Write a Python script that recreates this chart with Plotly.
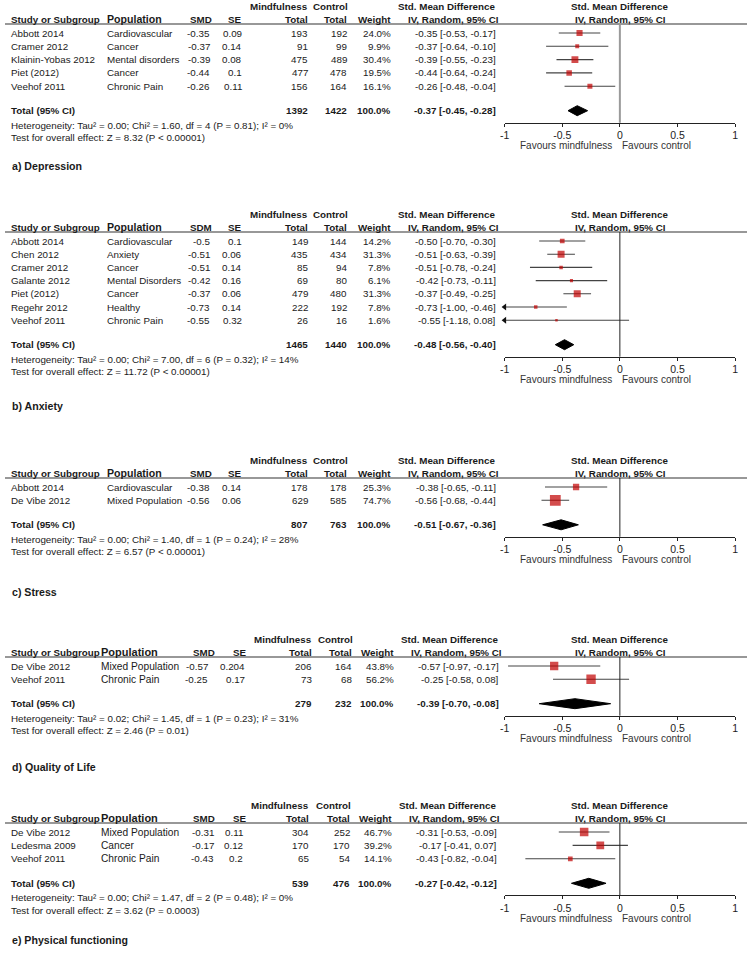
import math
import plotly.graph_objects as go

# ---------------- DATA ----------------
# a) Depression
a_title = "a) Depression"
a_smd_label = "SMD"
a_study = ["Abbott 2014", "Cramer 2012", "Klainin-Yobas 2012", "Piet (2012)", "Veehof 2011"]
a_pop = ["Cardiovascular", "Cancer", "Mental disorders", "Cancer", "Chronic Pain"]
a_smd = [-0.35, -0.37, -0.39, -0.44, -0.26]
a_se = [0.09, 0.14, 0.08, 0.1, 0.11]
a_n1 = [193, 91, 475, 477, 156]
a_n2 = [192, 99, 489, 478, 164]
a_w = [24.0, 9.9, 30.4, 19.5, 16.1]
a_est = [-0.35, -0.37, -0.39, -0.44, -0.26]
a_lo = [-0.53, -0.64, -0.55, -0.64, -0.48]
a_hi = [-0.17, -0.10, -0.23, -0.24, -0.04]
a_total_n = [1392, 1422]
a_total_w = 100.0
a_pooled = [-0.37, -0.45, -0.28]
a_het = "Heterogeneity: Tau² = 0.00; Chi² = 1.60, df = 4 (P = 0.81); I² = 0%"
a_test = "Test for overall effect: Z = 8.32 (P < 0.00001)"

# b) Anxiety
b_title = "b) Anxiety"
b_smd_label = "SDM"
b_study = ["Abbott 2014", "Chen 2012", "Cramer 2012", "Galante 2012", "Piet (2012)", "Regehr 2012", "Veehof 2011"]
b_pop = ["Cardiovascular", "Anxiety", "Cancer", "Mental Disorders", "Cancer", "Healthy", "Chronic Pain"]
b_smd = [-0.5, -0.51, -0.51, -0.42, -0.37, -0.73, -0.55]
b_se = [0.1, 0.06, 0.14, 0.16, 0.06, 0.14, 0.32]
b_n1 = [149, 435, 85, 69, 479, 222, 26]
b_n2 = [144, 434, 94, 80, 480, 192, 16]
b_w = [14.2, 31.3, 7.8, 6.1, 31.3, 7.8, 1.6]
b_est = [-0.50, -0.51, -0.51, -0.42, -0.37, -0.73, -0.55]
b_lo = [-0.70, -0.63, -0.78, -0.73, -0.49, -1.00, -1.18]
b_hi = [-0.30, -0.39, -0.24, -0.11, -0.25, -0.46, 0.08]
b_total_n = [1465, 1440]
b_total_w = 100.0
b_pooled = [-0.48, -0.56, -0.40]
b_het = "Heterogeneity: Tau² = 0.00; Chi² = 7.00, df = 6 (P = 0.32); I² = 14%"
b_test = "Test for overall effect: Z = 11.72 (P < 0.00001)"

# c) Stress
c_title = "c) Stress"
c_smd_label = "SMD"
c_study = ["Abbott 2014", "De Vibe 2012"]
c_pop = ["Cardiovascular", "Mixed Population"]
c_smd = [-0.38, -0.56]
c_se = [0.14, 0.06]
c_n1 = [178, 629]
c_n2 = [178, 585]
c_w = [25.3, 74.7]
c_est = [-0.38, -0.56]
c_lo = [-0.65, -0.68]
c_hi = [-0.11, -0.44]
c_total_n = [807, 763]
c_total_w = 100.0
c_pooled = [-0.51, -0.67, -0.36]
c_het = "Heterogeneity: Tau² = 0.00; Chi² = 1.40, df = 1 (P = 0.24); I² = 28%"
c_test = "Test for overall effect: Z = 6.57 (P < 0.00001)"

# d) Quality of Life
d_title = "d) Quality of Life"
d_smd_label = "SMD"
d_study = ["De Vibe 2012", "Veehof 2011"]
d_pop = ["Mixed Population", "Chronic Pain"]
d_smd = [-0.57, -0.25]
d_se = [0.204, 0.17]
d_n1 = [206, 73]
d_n2 = [164, 68]
d_w = [43.8, 56.2]
d_est = [-0.57, -0.25]
d_lo = [-0.97, -0.58]
d_hi = [-0.17, 0.08]
d_total_n = [279, 232]
d_total_w = 100.0
d_pooled = [-0.39, -0.70, -0.08]
d_het = "Heterogeneity: Tau² = 0.02; Chi² = 1.45, df = 1 (P = 0.23); I² = 31%"
d_test = "Test for overall effect: Z = 2.46 (P = 0.01)"

# e) Physical functioning
e_title = "e) Physical functioning"
e_smd_label = "SMD"
e_study = ["De Vibe 2012", "Ledesma 2009", "Veehof 2011"]
e_pop = ["Mixed Population", "Cancer", "Chronic Pain"]
e_smd = [-0.31, -0.17, -0.43]
e_se = [0.11, 0.12, 0.2]
e_n1 = [304, 170, 65]
e_n2 = [252, 170, 54]
e_w = [46.7, 39.2, 14.1]
e_est = [-0.31, -0.17, -0.43]
e_lo = [-0.53, -0.41, -0.82]
e_hi = [-0.09, 0.07, -0.04]
e_total_n = [539, 476]
e_total_w = 100.0
e_pooled = [-0.27, -0.42, -0.12]
e_het = "Heterogeneity: Tau² = 0.00; Chi² = 1.47, df = 2 (P = 0.48); I² = 0%"
e_test = "Test for overall effect: Z = 3.62 (P = 0.0003)"

axis_tickvals = [-1, -0.5, 0, 0.5, 1]
axis_ticktext = ["-1", "-0.5", "0", "0.5", "1"]
favours_left = "Favours mindfulness"
favours_right = "Favours control"

# ---------------- LAYOUT / STYLE ----------------
W, H = 750, 957
FONT = "Liberation Sans, Arial, sans-serif"
TXT = "#1a1a1a"
RED = "#c00000"
X0_PX, X1_PX = 505, 738
LEFT_FIX = -5  # compensation for left-anchored annotation offset

colABC = dict(study=11, pop=108, smd=207, smd_h=209, se=240, se_h=240, n1=306, n2=346,
              w=390, ci=496, ci_h=499, pop_size=9.8, poph_size=10.6)
colD = dict(study=11, pop=102, smd=205, smd_h=212, se=243, se_h=245, n1=310, n2=351,
            w=393, ci=499, ci_h=502, pop_size=10.2, poph_size=11)
colE = dict(study=11, pop=102, smd=211, smd_h=212, se=241, se_h=245, n1=307, n2=349,
            w=391, ci=497, ci_h=500, pop_size=10.2, poph_size=11)

panels = [
    dict(title=a_title, smdl=a_smd_label, study=a_study, pop=a_pop, smd=a_smd, se=a_se, n1=a_n1, n2=a_n2,
         w=a_w, est=a_est, lo=a_lo, hi=a_hi, tn=a_total_n, tw=a_total_w, pooled=a_pooled, het=a_het,
         test=a_test, line_y=24, step=13.3, label_y=166, col=colABC, zcol="#9a9a9a", zw=2),
    dict(title=b_title, smdl=b_smd_label, study=b_study, pop=b_pop, smd=b_smd, se=b_se, n1=b_n1, n2=b_n2,
         w=b_w, est=b_est, lo=b_lo, hi=b_hi, tn=b_total_n, tw=b_total_w, pooled=b_pooled, het=b_het,
         test=b_test, line_y=232, step=13.2, label_y=406, col=colABC, zcol="#222", zw=1),
    dict(title=c_title, smdl=c_smd_label, study=c_study, pop=c_pop, smd=c_smd, se=c_se, n1=c_n1, n2=c_n2,
         w=c_w, est=c_est, lo=c_lo, hi=c_hi, tn=c_total_n, tw=c_total_w, pooled=c_pooled, het=c_het,
         test=c_test, line_y=478, step=13.3, label_y=592, col=colABC, zcol="#222", zw=1),
    dict(title=d_title, smdl=d_smd_label, study=d_study, pop=d_pop, smd=d_smd, se=d_se, n1=d_n1, n2=d_n2,
         w=d_w, est=d_est, lo=d_lo, hi=d_hi, tn=d_total_n, tw=d_total_w, pooled=d_pooled, het=d_het,
         test=d_test, line_y=657, step=13.2, label_y=767, col=colD, zcol="#222", zw=1),
    dict(title=e_title, smdl=e_smd_label, study=e_study, pop=e_pop, smd=e_smd, se=e_se, n1=e_n1, n2=e_n2,
         w=e_w, est=e_est, lo=e_lo, hi=e_hi, tn=e_total_n, tw=e_total_w, pooled=e_pooled, het=e_het,
         test=e_test, line_y=823, step=13.4, label_y=940, col=colE, zcol="#222", zw=1),
]

fig = go.Figure()
annotations = []
shapes = []


def txt(x, y, s, align="left", size=9.8, bold=False, color=TXT):
    if bold:
        s = f"<b>{s}</b>"
    if align == "left":
        x = x + LEFT_FIX
    annotations.append(dict(x=x / W, y=y, xref="paper", yref="y", text=s, showarrow=False,
                            xanchor=align, yanchor="middle", align=align, borderpad=0, borderwidth=0,
                            font=dict(family=FONT, size=size, color=color)))


def fmt_ci(e, l, h):
    return f"{e:.2f} [{l:.2f}, {h:.2f}]"


layout_axes = {}
for i, p in enumerate(panels):
    c = p["col"]
    L = p["line_y"]
    rows = [L + 9 + k * p["step"] for k in range(len(p["study"]))]
    tot_y = rows[-1] + 24.5
    axis_y = tot_y + 12
    xa = "x" if i == 0 else f"x{i + 1}"
    axname = "xaxis" if i == 0 else f"xaxis{i + 1}"

    # header texts
    txt(c["n1"], L - 18, "Mindfulness", "right", bold=True)
    txt(c["n2"] + 1, L - 18, "Control", "right", bold=True)
    txt(c["ci_h"] - 4, L - 18, "Std. Mean Difference", "right", bold=True)
    txt(621, L - 18, "Std. Mean Difference", "center", bold=True)
    txt(c["study"], L - 5, "Study or Subgroup", "left", bold=True)
    txt(c["pop"], L - 5, "Population", "left", size=c["poph_size"], bold=True)
    txt(c["smd_h"], L - 5, p["smdl"], "right", bold=True)
    txt(c["se_h"], L - 5, "SE", "right", bold=True)
    txt(c["n1"], L - 5, "Total", "right", bold=True)
    txt(c["n2"], L - 5, "Total", "right", bold=True)
    txt(c["w"], L - 5, "Weight", "right", bold=True)
    txt(c["ci_h"], L - 5, "IV, Random, 95% CI", "right", bold=True)
    txt(622, L - 5, "IV, Random, 95% CI", "center", bold=True)

    shapes.append(dict(type="line", xref="paper", yref="y", x0=0, x1=1, y0=L, y1=L,
                       line=dict(color="#333", width=1.2)))

    # rows
    for k, y in enumerate(rows):
        txt(c["study"], y, p["study"][k], "left")
        txt(c["pop"], y, p["pop"][k], "left", size=c["pop_size"])
        txt(c["smd"], y, f"{p['smd'][k]:g}", "right")
        txt(c["se"], y, f"{p['se'][k]:g}", "right")
        txt(c["n1"], y, str(p["n1"][k]), "right")
        txt(c["n2"], y, str(p["n2"][k]), "right")
        txt(c["w"], y, f"{p['w'][k]:.1f}%", "right")
        txt(c["ci"], y, fmt_ci(p["est"][k], p["lo"][k], p["hi"][k]), "right")

    # total
    txt(c["study"], tot_y, "Total (95% CI)", "left", bold=True)
    txt(c["n1"], tot_y, str(p["tn"][0]), "right", bold=True)
    txt(c["n2"], tot_y, str(p["tn"][1]), "right", bold=True)
    txt(c["w"], tot_y, f"{p['tw']:.1f}%", "right", bold=True)
    txt(c["ci"], tot_y, fmt_ci(*p["pooled"]), "right", bold=True)
    txt(c["study"], tot_y + 14.5, p["het"], "left")
    txt(c["study"], tot_y + 27, p["test"], "left")
    txt(12, p["label_y"], p["title"], "left", size=10.6, bold=True)

    # favours labels
    txt(567, axis_y + 23, favours_left, "center", size=10, color="#333")
    txt(659, axis_y + 23, favours_right, "center", size=10, color="#333")

    # zero line
    shapes.append(dict(type="line", xref=xa, yref="y", x0=0, x1=0, y0=L, y1=axis_y,
                       line=dict(color=p["zcol"], width=p["zw"])))

    # CI lines
    xs, ys = [], []
    for k, y in enumerate(rows):
        xs += [max(p["lo"][k], -1), min(p["hi"][k], 1), None]
        ys += [y, y, None]
    fig.add_trace(go.Scatter(x=xs, y=ys, mode="lines", xaxis=xa, yaxis="y",
                             line=dict(color="#444", width=1.1), hoverinfo="skip", showlegend=False))
    # arrows for truncated CIs
    ax_x = [-1 for k in range(len(rows)) if p["lo"][k] <= -1]
    ax_y = [rows[k] for k in range(len(rows)) if p["lo"][k] <= -1]
    if ax_x:
        fig.add_trace(go.Scatter(x=ax_x, y=ax_y, mode="markers", xaxis=xa, yaxis="y", cliponaxis=False,
                                 marker=dict(symbol="triangle-left", size=6, color="#111"),
                                 hoverinfo="skip", showlegend=False))
    # squares
    fig.add_trace(go.Scatter(x=p["est"], y=rows, mode="markers", xaxis=xa, yaxis="y",
                             marker=dict(symbol="square", color=RED, line=dict(width=0),
                                         size=[max(2.5, 1.25 * math.sqrt(w)) for w in p["w"]]),
                             showlegend=False))
    # diamond
    e, l, h = p["pooled"]
    fig.add_trace(go.Scatter(x=[l, e, h, e, l], y=[tot_y, tot_y - 5, tot_y, tot_y + 5, tot_y],
                             mode="lines", fill="toself", fillcolor="#000", xaxis=xa, yaxis="y",
                             line=dict(color="#000", width=1), hoverinfo="skip", showlegend=False))

    ax = dict(domain=[X0_PX / W, X1_PX / W], range=[-1, 1], anchor="free", position=1 - axis_y / H,
              showline=True, linecolor="#222", linewidth=1, ticks="outside", ticklen=3,
              tickcolor="#222", tickvals=axis_tickvals, ticktext=axis_ticktext,
              tickfont=dict(family=FONT, size=10.5, color="#222"), showgrid=False, zeroline=False,
              fixedrange=True)
    if i > 0:
        ax["overlaying"] = "x"
    layout_axes[axname] = ax

fig.update_layout(
    width=W, height=H, margin=dict(l=0, r=0, t=0, b=0),
    paper_bgcolor="white", plot_bgcolor="rgba(0,0,0,0)",
    yaxis=dict(domain=[0, 1], range=[H, 0], visible=False, fixedrange=True),
    annotations=annotations, shapes=shapes, showlegend=False,
    **layout_axes,
)

fig.write_html("out.html", config={"displayModeBar": False},
               post_script="document.body.style.margin='0';document.body.style.overflow='hidden';")
